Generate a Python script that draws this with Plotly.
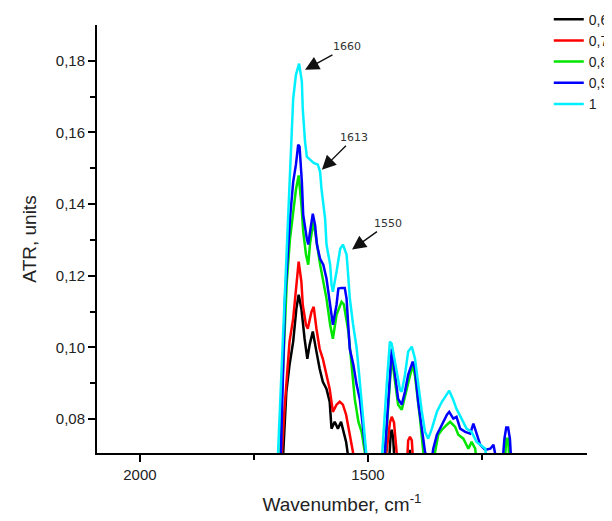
import plotly.graph_objects as go

# ---- data (wavenumber, cm-1 ; ATR units) ----
series_names = ["0,6", "0,7", "0,8", "0,9", "1"]
series_colors = ["#000000", "#ff0000", "#00e600", "#0000ff", "#00f0ff"]

x_06 = [1700, 1686, 1679, 1672, 1664, 1657, 1652, 1646, 1639, 1633, 1628, 1621, 1613, 1606, 1599, 1591,
        1584, 1580, 1573, 1566, 1559, 1551, 1548, 1544, 1540, 1475, 1455, 1450, 1448, 1445, 1441, 1412,
        1408, 1405, 1400]
y_06 = [0.062, 0.070, 0.0876, 0.0951, 0.1016, 0.1108, 0.1147, 0.1108, 0.1024, 0.0968, 0.1007, 0.1044,
        0.0988, 0.0940, 0.0904, 0.0884, 0.0848, 0.0773, 0.0792, 0.0773, 0.0792, 0.0756, 0.0736, 0.0700,
        0.065, 0.062, 0.066, 0.0760, 0.0770, 0.0750, 0.066, 0.066, 0.0714, 0.066, 0.062]

x_07 = [1700, 1689, 1683, 1672, 1664, 1657, 1652, 1646, 1643, 1636, 1632, 1624, 1619, 1613, 1606, 1599,
        1591, 1584, 1577, 1569, 1562, 1555, 1548, 1540, 1533, 1528, 1475, 1460, 1452, 1448, 1443, 1437,
        1433, 1415, 1412, 1408, 1404, 1400, 1390]
y_07 = [0.062, 0.070, 0.0828, 0.1016, 0.1080, 0.1183, 0.1239, 0.1183, 0.1119, 0.1063, 0.1052, 0.1099,
        0.1113, 0.1052, 0.0996, 0.0968, 0.0923, 0.0884, 0.0820, 0.0840, 0.0848, 0.0840, 0.0812, 0.0756,
        0.0708, 0.065, 0.062, 0.0703, 0.0790, 0.0806, 0.0790, 0.0703, 0.065, 0.066, 0.0740, 0.0750,
        0.0740, 0.066, 0.062]

x_08 = [1700, 1692, 1689, 1678, 1671, 1664, 1658, 1652, 1646, 1642, 1636, 1631, 1627, 1620, 1616, 1605,
        1591, 1583, 1577, 1569, 1558, 1553, 1543, 1536, 1529, 1521, 1514, 1507, 1503, 1475, 1463, 1448,
        1441, 1434, 1426, 1419, 1412, 1402, 1397, 1386, 1379, 1375, 1357, 1353, 1346, 1338, 1327, 1320,
        1309, 1302, 1291, 1280, 1273, 1265, 1262, 1250, 1205, 1200, 1197, 1193, 1190, 1180]
y_08 = [0.062, 0.068, 0.0856, 0.1183, 0.1303, 0.1380, 0.1440, 0.1480, 0.1400, 0.1323, 0.1260, 0.1231,
        0.1290, 0.1351, 0.1323, 0.1231, 0.1136, 0.1063, 0.1024, 0.1091, 0.1127, 0.1120, 0.1044, 0.0951,
        0.0856, 0.0792, 0.0764, 0.0708, 0.065, 0.062, 0.0703, 0.0974, 0.0900, 0.0840, 0.0826, 0.0860,
        0.0900, 0.0951, 0.0920, 0.0801, 0.0708, 0.066, 0.066, 0.0708, 0.0756, 0.0770, 0.0784, 0.0792,
        0.0778, 0.0756, 0.0745, 0.0717, 0.0736, 0.0717, 0.068, 0.062, 0.062, 0.068, 0.0745, 0.0745,
        0.068, 0.062]

x_09 = [1700, 1691, 1682, 1671, 1664, 1658, 1653, 1650, 1645, 1642, 1634, 1631, 1627, 1621, 1616, 1612,
        1605, 1598, 1591, 1583, 1577, 1569, 1565, 1558, 1551, 1547, 1543, 1540, 1532, 1525, 1518, 1510,
        1504, 1500, 1475, 1463, 1448, 1441, 1434, 1426, 1419, 1412, 1402, 1397, 1390, 1382, 1375, 1368,
        1360, 1357, 1349, 1338, 1327, 1322, 1313, 1306, 1298, 1287, 1276, 1269, 1262, 1254, 1243, 1232,
        1225, 1221, 1215, 1205, 1201, 1197, 1193, 1189, 1186, 1180]
y_09 = [0.062, 0.070, 0.1136, 0.1359, 0.1462, 0.1510, 0.1566, 0.1560, 0.1462, 0.1370, 0.1303, 0.1287,
        0.1323, 0.1373, 0.1342, 0.1287, 0.1247, 0.1231, 0.1192, 0.1119, 0.1063, 0.1119, 0.1164, 0.1166,
        0.1166, 0.1136, 0.1071, 0.0996, 0.0951, 0.0896, 0.0856, 0.0764, 0.0708, 0.065, 0.062, 0.0703,
        0.0996, 0.0923, 0.0856, 0.0840, 0.0876, 0.0923, 0.0960, 0.0940, 0.0848, 0.0773, 0.0708, 0.068,
        0.069, 0.0717, 0.0756, 0.0784, 0.0812, 0.0820, 0.0801, 0.0806, 0.0773, 0.0764, 0.0759, 0.0787,
        0.0756, 0.0728, 0.0714, 0.0717, 0.0728, 0.0703, 0.066, 0.068, 0.0745, 0.0776, 0.0776, 0.0745,
        0.068, 0.062]

x_10 = [1700, 1697, 1689, 1678, 1671, 1664, 1658, 1651, 1645, 1643, 1638, 1634, 1627, 1619, 1610, 1605,
        1602, 1594, 1591, 1583, 1580, 1577, 1569, 1561, 1555, 1547, 1544, 1540, 1533, 1525, 1518, 1511,
        1503, 1500, 1480, 1470, 1459, 1452, 1448, 1445, 1437, 1430, 1426, 1419, 1412, 1404, 1397, 1390,
        1382, 1375, 1368, 1360, 1349, 1338, 1327, 1322, 1314, 1306, 1295, 1284, 1273, 1262, 1254, 1243,
        1240, 1230]
y_10 = [0.062, 0.070, 0.0951, 0.1275, 0.1505, 0.1694, 0.1761, 0.1792, 0.1742, 0.1666, 0.1574, 0.1532,
        0.1524, 0.1515, 0.1510, 0.1490, 0.1443, 0.1359, 0.1287, 0.1231, 0.1175, 0.1155, 0.1211, 0.1275,
        0.1287, 0.1259, 0.1211, 0.1138, 0.1066, 0.0999, 0.0904, 0.0811, 0.0717, 0.065, 0.062, 0.068,
        0.0896, 0.1016, 0.1010, 0.0988, 0.0923, 0.0882, 0.0876, 0.0923, 0.0988, 0.1002, 0.0968, 0.0896,
        0.0820, 0.0764, 0.0745, 0.0773, 0.0820, 0.0848, 0.0871, 0.0879, 0.0856, 0.0828, 0.0801, 0.0773,
        0.0764, 0.0736, 0.0728, 0.0717, 0.068, 0.062]

xs = [x_06, x_07, x_08, x_09, x_10]
ys = [y_06, y_07, y_08, y_09, y_10]

x_tick_vals = [2000, 1500]
x_tick_text = ["2000", "1500"]
x_minor_vals = [1750, 1250]
y_tick_vals = [0.08, 0.10, 0.12, 0.14, 0.16, 0.18]
y_tick_text = ["0,08", "0,10", "0,12", "0,14", "0,16", "0,18"]
y_minor_vals = [0.09, 0.11, 0.13, 0.15, 0.17]

# peak labels: (label, wavenumber of arrow tip, value at arrow tip)
peak_labels = ["1660", "1613", "1550"]
peak_x = [1638, 1601, 1535]
peak_y = [0.1775, 0.1496, 0.1273]

fig = go.Figure()
for name, color, x, y in zip(series_names, series_colors, xs, ys):
    fig.add_trace(go.Scatter(x=x, y=y, mode="lines", name=name,
                             line=dict(color=color, width=2.5)))

offsets = [(42, -23), (32, -32), (36, -26)]
for lab, px, py, (ax, ay) in zip(peak_labels, peak_x, peak_y, offsets):
    fig.add_annotation(x=px, y=py, text=lab, showarrow=True, ax=ax, ay=ay,
                       arrowhead=2, arrowsize=2.0, arrowwidth=1.4, arrowcolor="#111",
                       font=dict(family="DejaVu Sans", size=11, color="#333"))

axis_common = dict(showline=True, linecolor="black", linewidth=2, ticks="outside",
                   tickcolor="black", tickwidth=2, ticklen=7, showgrid=False, zeroline=False,
                   automargin=False,
                   tickfont=dict(family="Liberation Sans", size=15, color="#222"))

# the page body adds an 8px offset, so the figure is sized 8px smaller on each side
fig.update_layout(
    width=604, height=513,
    margin=dict(l=89, r=25, t=17, b=68, autoexpand=False),
    plot_bgcolor="white", paper_bgcolor="white",
    font=dict(family="Liberation Sans", color="#222"),
    xaxis=dict(range=[2094, 1020], tickvals=x_tick_vals, ticktext=x_tick_text,
               minor=dict(tickvals=x_minor_vals, ticks="outside", ticklen=5, tickwidth=2,
                          tickcolor="black"),
               title=dict(text="Wavenumber, cm<sup>-1</sup>", font=dict(size=19), standoff=16),
               **axis_common),
    yaxis=dict(range=[0.0705, 0.19], tickvals=y_tick_vals, ticktext=y_tick_text,
               minor=dict(tickvals=y_minor_vals, ticks="outside", ticklen=5, tickwidth=2,
                          tickcolor="black"),
               title=dict(text="ATR, units", font=dict(size=19), standoff=14),
               **axis_common),
    legend=dict(x=0.922, y=1.05, xanchor="left", yanchor="top", bgcolor="rgba(0,0,0,0)",
                font=dict(family="Liberation Sans", size=14, color="#222"), tracegroupgap=0,
                itemwidth=30),
    showlegend=True,
)

fig.write_html("out.html")
